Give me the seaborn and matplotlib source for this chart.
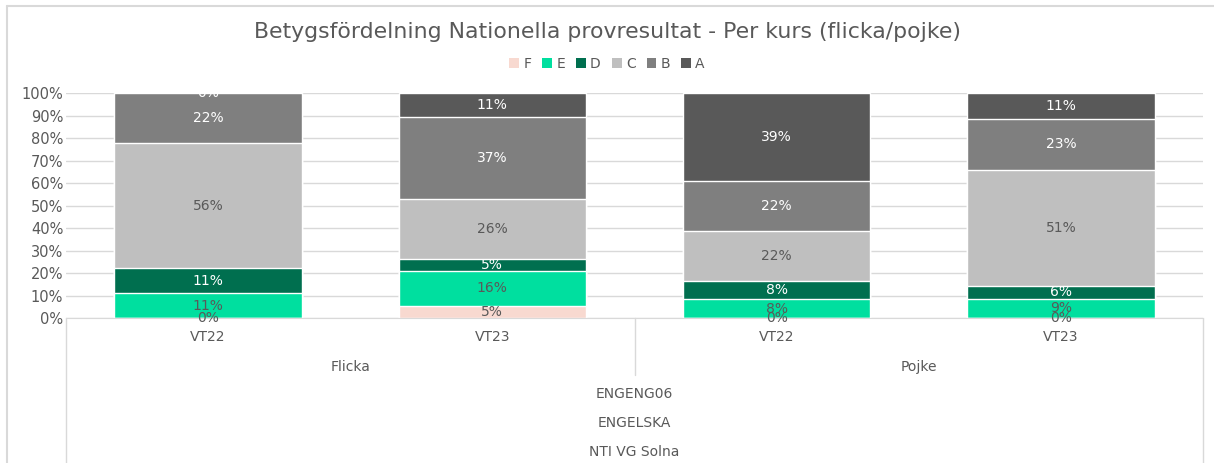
import numpy as np
import pandas as pd
import matplotlib
matplotlib.use("Agg")
import matplotlib.pyplot as plt
import seaborn as sns
from matplotlib.patches import Patch
from matplotlib.lines import Line2D

# data (percent of students per grade)
terms = ["VT22", "VT23", "VT22", "VT23"]
genders = ["Flicka", "Pojke"]
grades = ["F", "E", "D", "C", "B", "A"]
F = [0.0, 5.3, 0.0, 0.0]
E = [11.1, 15.8, 8.3, 8.6]
D = [11.1, 5.3, 8.3, 5.7]
C = [55.6, 26.3, 22.2, 51.4]
B = [22.2, 36.8, 22.2, 22.9]
A = [0.0, 10.5, 38.9, 11.4]
levels = ["ENGENG06", "ENGELSKA", "NTI VG Solna"]

colors = {"F": "#F8D9D0", "E": "#00DF9F", "D": "#006F4F",
          "C": "#BFBFBF", "B": "#7F7F7F", "A": "#595959"}
label_col = {"F": "#595959", "E": "#595959", "D": "white",
             "C": "#595959", "B": "white", "A": "white"}

df = pd.DataFrame({"F": F, "E": E, "D": D, "C": C, "B": B, "A": A})
df["bar"] = [f"{g}\n{t}" for g, t in zip(["Flicka", "Flicka", "Pojke", "Pojke"], terms)]
cum = df[grades].cumsum(axis=1)
start = cum - df[grades]

sns.set_style("white")
plt.rcParams["font.family"] = ["DejaVu Sans"]
txt = "#595959"

fig = plt.figure(figsize=(12.14, 4.63), dpi=100)
ax = fig.add_axes([66 / 1214, 1 - 318 / 463, (1203 - 66) / 1214, (318 - 93) / 463])

# outer chart border (left + top only are visible)
fig.add_artist(Line2D([7 / 1214, 7 / 1214], [0, 1 - 6 / 463], transform=fig.transFigure,
                      color="#D9D9D9", lw=1.5))
fig.add_artist(Line2D([7 / 1214, 1], [1 - 6 / 463, 1 - 6 / 463], transform=fig.transFigure,
                      color="#D9D9D9", lw=1.5))

# stacked bars: draw cumulative totals from the top grade down
for g in reversed(grades):
    sns.barplot(x=df["bar"], y=cum[g], color=colors[g], width=0.66, ax=ax,
                saturation=1, zorder=2, errorbar=None)

ax.set_ylim(0, 100)
ax.set_xlim(-0.5, 3.5)
ax.set_yticks(np.arange(0, 101, 10))
ax.set_yticklabels([f"{v}%" for v in range(0, 101, 10)], color=txt, fontsize=10.5)
ax.set_xticks([])
ax.set_xlabel("")
ax.set_ylabel("")
ax.grid(axis="y", color="#D9D9D9", lw=1, zorder=0)
ax.set_axisbelow(True)
for s in ["top", "right", "left"]:
    ax.spines[s].set_visible(False)
ax.spines["bottom"].set_color("#D9D9D9")
ax.tick_params(axis="y", length=0, pad=2)

# data labels (Excel style rounding, half up)
for i in range(len(df)):
    for g in grades:
        v = df.loc[i, g]
        y = start.loc[i, g] + v / 2
        ax.text(i, y, f"{int(np.floor(v + 0.5))}%", ha="center", va="center",
                color=label_col[g], fontsize=10, zorder=5, clip_on=(g == "A"))

# multi-level category axis
tr = ax.get_xaxis_transform()
def ypx(p):
    return -(p - 318) / (318 - 93)

for i, t in enumerate(terms):
    ax.text(i, ypx(337), t, transform=tr, ha="center", va="center", color=txt, fontsize=10)
for j, g in enumerate(genders):
    ax.text(0.5 + 2 * j, ypx(367), g, transform=tr, ha="center", va="center", color=txt, fontsize=10)
for k, lv in enumerate(levels):
    ax.text(1.5, ypx(394 + 29 * k), lv, transform=tr, ha="center", va="center", color=txt, fontsize=10)

ax.add_line(Line2D([1.5, 1.5], [0, ypx(375)], transform=tr, color="#D9D9D9", lw=1, clip_on=False))
ax.add_line(Line2D([-0.5, -0.5], [0, ypx(470)], transform=tr, color="#D9D9D9", lw=1, clip_on=False))
ax.add_line(Line2D([3.5, 3.5], [0, ypx(470)], transform=tr, color="#D9D9D9", lw=1, clip_on=False))

fig.text(0.5, 1 - 32 / 463, "Betygsfördelning Nationella provresultat - Per kurs (flicka/pojke)",
         ha="center", va="center", color=txt, fontsize=15.8)

handles = [Patch(facecolor=colors[g], edgecolor="none", label=g) for g in grades]
fig.legend(handles=handles, loc="center", bbox_to_anchor=(0.5, 1 - 64 / 463), ncol=6,
           frameon=False, fontsize=10, handlelength=0.7, handleheight=0.7,
           handletextpad=0.3, columnspacing=0.8, labelcolor=txt)

fig.savefig("out.png", dpi=100)
